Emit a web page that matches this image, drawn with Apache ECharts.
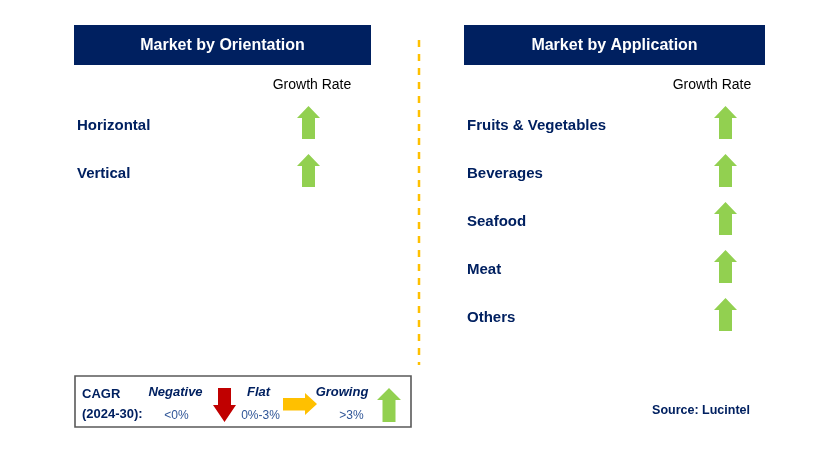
<!DOCTYPE html>
<html>
<head>
<meta charset="utf-8">
<script src="https://cdn.jsdelivr.net/npm/echarts@6/dist/echarts.min.js"></script>
<style>
html,body{margin:0;padding:0;background:#fff;}
#main{width:829px;height:454px;}
</style>
</head>
<body>
<div id="main"></div>
<script>
// ---- data ----
var orientationTitle = 'Market by Orientation';
var applicationTitle = 'Market by Application';
var columnTitle = 'Growth Rate';
var orientationCategories = ['Horizontal', 'Vertical'];
var orientationGrowth = ['Growing', 'Growing'];
var applicationCategories = ['Fruits & Vegetables', 'Beverages', 'Seafood', 'Meat', 'Others'];
var applicationGrowth = ['Growing', 'Growing', 'Growing', 'Growing', 'Growing'];
var legendLabels = ['Negative', 'Flat', 'Growing'];
var legendRanges = ['<0%', '0%-3%', '>3%'];
var cagrLabel = ['CAGR', '(2024-30):'];
var sourceText = 'Source: Lucintel';

// ---- styles ----
var NAVY = '#002060';
var GREEN = '#92D050';
var RED = '#C00000';
var GOLD = '#FFC000';
var FONT = '"Liberation Sans", Arial, sans-serif';
var UP = 'path://M11.5,0 L23,12 L18,12 L18,33 L5,33 L5,12 L0,12 Z';
var DOWN = 'path://M5,0 L18,0 L18,17 L23,17 L11.5,34 L0,17 L5,17 Z';
var RIGHT = 'path://M0,4.5 L22,4.5 L22,0 L34,11 L22,22 L22,17.5 L0,17.5 Z';
var symbolFor = {Growing: UP, Negative: DOWN, Flat: RIGHT};
var colorFor = {Growing: GREEN, Negative: RED, Flat: GOLD};
var sizeFor = {Growing: [23, 33], Negative: [23, 34], Flat: [34, 22]};

function arrowData(cats, growth) {
  return cats.map(function (c, i) {
    var g = growth[i];
    return {
      value: [0.5, c],
      symbol: symbolFor[g],
      symbolSize: sizeFor[g],
      itemStyle: {color: colorFor[g], opacity: 1}
    };
  });
}

var chart = echarts.init(document.getElementById('main'), null, {renderer: 'canvas'});

var catLabel = function (margin) {
  return {
    show: true, align: 'left', margin: margin,
    formatter: '{c|{value}}',
    rich: {
      c: {color: NAVY, fontFamily: FONT, fontWeight: 'bold', fontSize: 15, padding: [6, 0, 0, 0]}
    }
  };
};

var option = {
  animation: false,
  backgroundColor: '#fff',
  grid: [
    {left: 297, width: 23, top: 98.5, height: 96},
    {left: 714, width: 23, top: 98.5, height: 240}
  ],
  xAxis: [
    {gridIndex: 0, type: 'value', min: 0, max: 1, show: false},
    {gridIndex: 1, type: 'value', min: 0, max: 1, show: false}
  ],
  yAxis: [
    {gridIndex: 0, type: 'category', inverse: true, data: orientationCategories,
      axisLine: {show: false}, axisTick: {show: false}, splitLine: {show: false},
      axisLabel: catLabel(297 - 77)},
    {gridIndex: 1, type: 'category', inverse: true, data: applicationCategories,
      axisLine: {show: false}, axisTick: {show: false}, splitLine: {show: false},
      axisLabel: catLabel(714 - 467)}
  ],
  series: [
    {type: 'scatter', xAxisIndex: 0, yAxisIndex: 0, data: arrowData(orientationCategories, orientationGrowth), silent: true},
    {type: 'scatter', xAxisIndex: 1, yAxisIndex: 1, data: arrowData(applicationCategories, applicationGrowth), silent: true}
  ],
  graphic: [
    {type: 'rect', shape: {x: 74, y: 25, width: 297, height: 40}, style: {fill: NAVY}},
    {type: 'rect', shape: {x: 464, y: 25, width: 301, height: 40}, style: {fill: NAVY}},
    {type: 'text', x: 222.5, y: 45.5, style: {text: orientationTitle, fill: '#fff', font: 'bold 16px ' + FONT, textAlign: 'center', textVerticalAlign: 'middle'}},
    {type: 'text', x: 614.5, y: 45.5, style: {text: applicationTitle, fill: '#fff', font: 'bold 16px ' + FONT, textAlign: 'center', textVerticalAlign: 'middle'}},
    {type: 'text', x: 312, y: 85, style: {text: columnTitle, fill: '#000', font: '14px ' + FONT, textAlign: 'center', textVerticalAlign: 'middle'}},
    {type: 'text', x: 712, y: 85, style: {text: columnTitle, fill: '#000', font: '14px ' + FONT, textAlign: 'center', textVerticalAlign: 'middle'}},
    {type: 'line', shape: {x1: 419, y1: 40, x2: 419, y2: 365}, style: {stroke: GOLD, lineWidth: 2.5, lineDash: [7, 7]}},
    {type: 'rect', shape: {x: 75, y: 376, width: 336, height: 51}, style: {fill: 'none', stroke: '#595959', lineWidth: 1.6}},
    {type: 'text', x: 82, y: 394, style: {text: cagrLabel[0], fill: NAVY, font: 'bold 13px ' + FONT, textAlign: 'left', textVerticalAlign: 'middle'}},
    {type: 'text', x: 82, y: 414, style: {text: cagrLabel[1], fill: NAVY, font: 'bold 13px ' + FONT, textAlign: 'left', textVerticalAlign: 'middle'}},
    {type: 'text', x: 175.5, y: 392, style: {text: legendLabels[0], fill: NAVY, font: 'italic bold 13px ' + FONT, textAlign: 'center', textVerticalAlign: 'middle'}},
    {type: 'text', x: 258.5, y: 392, style: {text: legendLabels[1], fill: NAVY, font: 'italic bold 13px ' + FONT, textAlign: 'center', textVerticalAlign: 'middle'}},
    {type: 'text', x: 342, y: 392, style: {text: legendLabels[2], fill: NAVY, font: 'italic bold 13px ' + FONT, textAlign: 'center', textVerticalAlign: 'middle'}},
    {type: 'text', x: 176.5, y: 416, style: {text: legendRanges[0], fill: '#2F5597', font: '12px ' + FONT, textAlign: 'center', textVerticalAlign: 'middle'}},
    {type: 'text', x: 260.5, y: 416, style: {text: legendRanges[1], fill: '#2F5597', font: '12px ' + FONT, textAlign: 'center', textVerticalAlign: 'middle'}},
    {type: 'text', x: 351.5, y: 416, style: {text: legendRanges[2], fill: '#2F5597', font: '12px ' + FONT, textAlign: 'center', textVerticalAlign: 'middle'}},
    {type: 'polygon', shape: {points: [[218, 388], [231, 388], [231, 405], [236, 405], [224.5, 422], [213, 405], [218, 405]]}, style: {fill: RED}},
    {type: 'polygon', shape: {points: [[283, 398], [305, 398], [305, 393], [317, 404], [305, 415], [305, 410.5], [283, 410.5]]}, style: {fill: GOLD}},
    {type: 'polygon', shape: {points: [[389, 388], [401, 400], [395.5, 400], [395.5, 422], [382.5, 422], [382.5, 400], [377, 400]]}, style: {fill: GREEN}},
    {type: 'text', x: 750, y: 410.5, style: {text: sourceText, fill: NAVY, font: 'bold 12.5px ' + FONT, textAlign: 'right', textVerticalAlign: 'middle'}}
  ]
};
chart.setOption(option);
</script>
</body>
</html>
